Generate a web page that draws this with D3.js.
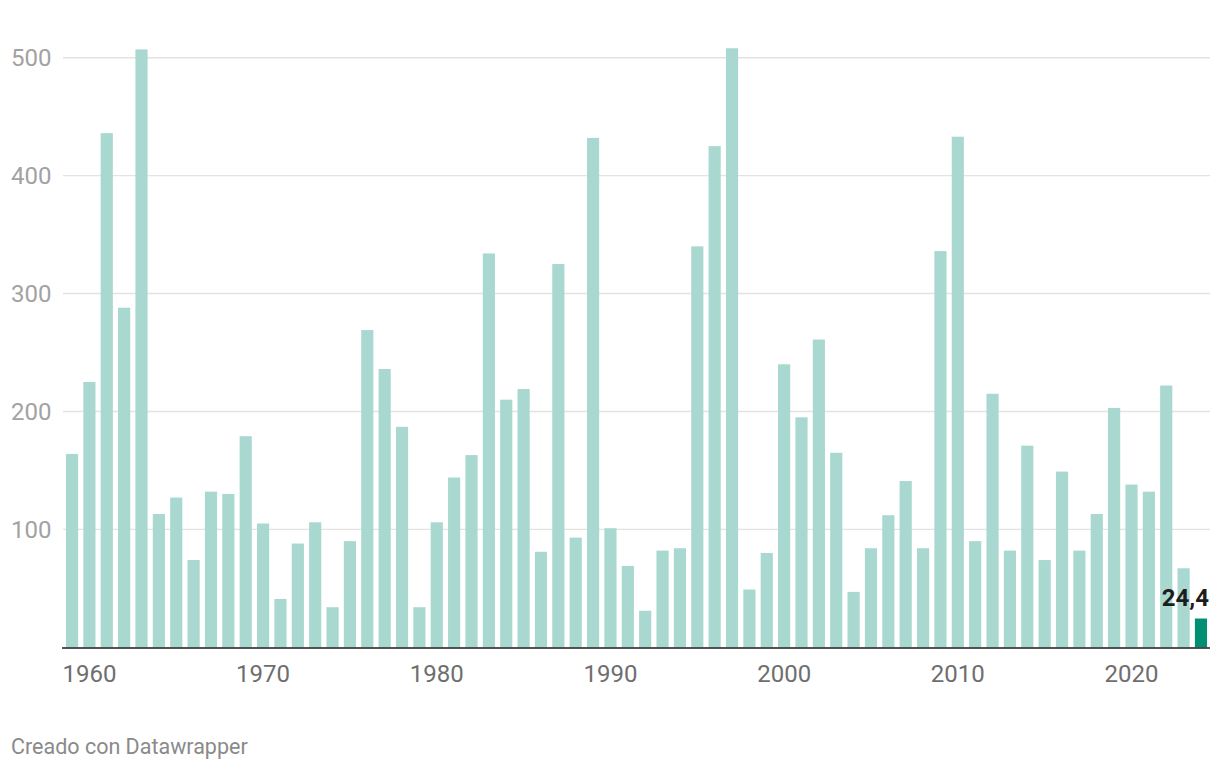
<!DOCTYPE html>
<html>
<head>
<meta charset="utf-8">
<script src="https://cdn.jsdelivr.net/npm/d3@7"></script>
<style>
  html, body { margin: 0; padding: 0; background: #fff; }
  svg { display: block; font-family: Roboto, "Noto Sans", sans-serif; }
</style>
</head>
<body>
<svg id="chart" width="1220" height="770"></svg>
<script>
const years = d3.range(1959, 2025);
const values = [
  164, 225, 436, 288, 507, 113, 127, 74, 132, 130,
  179, 105, 41, 88, 106, 34, 90, 269, 236, 187,
  34, 106, 144, 163, 334, 210, 219, 81, 325, 93,
  432, 101, 69, 31, 82, 84, 340, 425, 508, 49,
  80, 240, 195, 261, 165, 47, 84, 112, 141, 84,
  336, 433, 90, 215, 82, 171, 74, 149, 82, 113,
  203, 138, 132, 222, 67, 24.4
];
const yTicks = [100, 200, 300, 400, 500];
const xTickYears = [1960, 1970, 1980, 1990, 2000, 2010, 2020];
const highlightYear = 2024;
const highlightLabel = "24,4";
const credit = "Creado con Datawrapper";

const data = years.map((yr, i) => ({ year: yr, value: values[i] }));
const svg = d3.select("#chart");

const plotLeft = 63, plotRight = 1210, plotTop = 57.7, plotBottom = 647.3;

const x = d3.scaleBand()
  .domain(years)
  .range([plotLeft, plotRight])
  .paddingInner(0.3)
  .paddingOuter(0.17);

const y = d3.scaleLinear()
  .domain([0, 500])
  .range([plotBottom, plotTop]);

// gridlines
svg.append("g")
  .selectAll("line")
  .data(yTicks)
  .join("line")
  .attr("x1", plotLeft)
  .attr("x2", plotRight)
  .attr("y1", d => y(d))
  .attr("y2", d => y(d))
  .attr("stroke", "#e3e3e3")
  .attr("stroke-width", 1.4);

// y labels
svg.append("g")
  .selectAll("text")
  .data(yTicks)
  .join("text")
  .attr("x", 11)
  .attr("y", d => y(d))
  .attr("dy", "0.36em")
  .attr("fill", "#a2a2a2")
  .attr("font-size", 24)
  .text(d => d);

// bars
svg.append("g")
  .selectAll("rect")
  .data(data)
  .join("rect")
  .attr("x", d => x(d.year))
  .attr("width", x.bandwidth())
  .attr("y", d => y(d.value))
  .attr("height", d => y(0) - y(d.value))
  .attr("fill", d => d.year === highlightYear ? "#008f72" : "#a8d8d0");

// baseline
svg.append("line")
  .attr("x1", plotLeft - 1)
  .attr("x2", plotRight)
  .attr("y1", y(0) + 0.7)
  .attr("y2", y(0) + 0.7)
  .attr("stroke", "#1a1a1a")
  .attr("stroke-width", 1.5);

// x axis labels
const xAxis = d3.axisBottom(x)
  .tickValues(xTickYears)
  .tickSize(0)
  .tickPadding(18);

const gx = svg.append("g")
  .attr("transform", `translate(0,${y(0)})`)
  .call(xAxis);
gx.select(".domain").remove();
gx.selectAll("text")
  .attr("font-family", "Roboto, sans-serif")
  .attr("font-size", 24)
  .attr("fill", "#6e6e6e");

// highlight value label
const hd = data.find(d => d.year === highlightYear);
svg.append("text")
  .attr("x", x(hd.year) + x.bandwidth() + 2)
  .attr("y", y(hd.value) - 13)
  .attr("text-anchor", "end")
  .attr("font-size", 24)
  .attr("font-weight", "bold")
  .attr("fill", "#1d1d1d")
  .text(highlightLabel);

// credit
svg.append("text")
  .attr("x", 11)
  .attr("y", 754)
  .attr("font-size", 21.5)
  .attr("fill", "#8a8a8a")
  .text(credit);
</script>
</body>
</html>
